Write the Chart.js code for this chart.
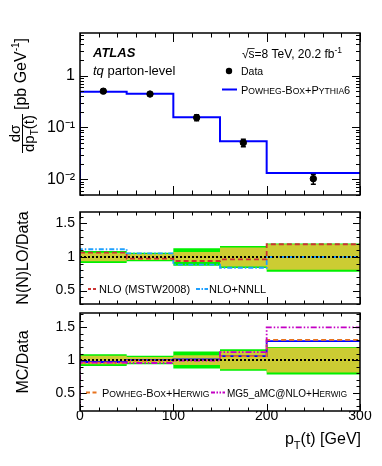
<!DOCTYPE html>
<html>
<head>
<meta charset="utf-8">
<script src="https://cdn.jsdelivr.net/npm/chart.js@4.4.1/dist/chart.umd.min.js"></script>
<style>
html, body { margin: 0; padding: 0; background: #fff; }
#wrap { position: relative; width: 382px; height: 466px; }
.pad { position: absolute; left: 0; width: 382px; }
</style>
</head>
<body>
<div id="wrap">
  <div class="pad" style="top:0;height:200px"><canvas id="topChart"></canvas></div>
  <div class="pad" style="top:200px;height:105px"><canvas id="midChart"></canvas></div>
  <div class="pad" style="top:305px;height:161px"><canvas id="botChart"></canvas></div>
</div>
<script>
// pT(t) bins [GeV]
const binEdges = [0, 50, 100, 150, 200, 300];
const binCentres = [25, 75, 125, 175, 250];

// unfolded data [pb/GeV]
const dataXsec = [0.50, 0.44, 0.155, 0.051, 0.0103];
// relative uncertainties: stat (inner band), total up / down (outer band)
const statUnc = [0.065, 0.045, 0.075, 0.14, 0.19];
const totUp = [0.09, 0.065, 0.13, 0.165, 0.20];
const totDown = [0.09, 0.065, 0.13, 0.165, 0.22];

// Powheg-Box+Pythia6 [pb/GeV]
const powPy6 = [0.487, 0.445, 0.158, 0.054, 0.0133];

// theory / data
const nloMstw = [1.065, 0.975, 0.94, 0.965, 1.19];
const nloNnll = [1.115, 1.055, 0.885, 0.84, 1.0];
// MC / data
const powPy6Ratio = [0.97, 1.0, 1.01, 1.06, 1.29];
const powHerwigRatio = [0.96, 0.99, 1.0, 1.06, 1.31];
const mg5HerwigRatio = [0.96, 0.955, 0.99, 1.12, 1.5];

// axes
const xTicks = [0, 100, 200, 300];
const yTopTicks = [0.01, 0.1, 1];
const yTopLabels = ['10⁻²', '10⁻¹', '1'];
const ratioTicks = [0.5, 1, 1.5];
const ratioLabels = ['0.5', '1', '1.5'];

const FONT = "'Liberation Sans', Arial, Helvetica, sans-serif";
const GREEN = 'rgb(0,240,0)';
const OLIVE = 'rgb(204,204,51)';

// histogram as step points (value holds until next edge)
function steps(vals, floor) {
  const pts = vals.map((v, i) => ({ x: binEdges[i], y: v }));
  pts.push({ x: binEdges[binEdges.length - 1], y: vals[vals.length - 1] });
  if (floor !== undefined) pts.unshift({ x: binEdges[0], y: floor });
  return pts;
}

function stepLine(data, color, width, dash, order) {
  return { data, borderColor: color, borderWidth: width, borderDash: dash || [],
           stepped: true, pointRadius: 0, fill: false, order };
}

function bandDatasets(first, up, down, color, order) {
  return [
    { data: steps(up), borderWidth: 0, borderColor: 'transparent', backgroundColor: color,
      stepped: true, pointRadius: 0, fill: first + 1, order },
    { data: steps(down), borderWidth: 0, borderColor: 'transparent',
      stepped: true, pointRadius: 0, fill: false, order }
  ];
}

// rich text: parts {t, size, font, dy, sc}
function drawParts(ctx, parts, x, y, align) {
  const runs = [];
  for (const p of parts) {
    const w = p.font || '';
    if (p.sc) {
      for (const ch of p.t) {
        const small = ch !== ch.toUpperCase();
        runs.push({ t: ch.toUpperCase(), font: (w + ' ' + (small ? p.size * 0.78 : p.size) + 'px ' + FONT).trim(), dy: p.dy || 0 });
      }
    } else {
      runs.push({ t: p.t, font: (w + ' ' + p.size + 'px ' + FONT).trim(), dy: p.dy || 0 });
    }
  }
  let total = 0;
  for (const r of runs) { ctx.font = r.font; r.w = ctx.measureText(r.t).width; total += r.w; }
  let cx = align === 'right' ? x - total : align === 'center' ? x - total / 2 : x;
  ctx.textAlign = 'left';
  ctx.textBaseline = 'alphabetic';
  for (const r of runs) { ctx.font = r.font; ctx.fillText(r.t, cx, y + r.dy); cx += r.w; }
  return total;
}

function sampleLine(ctx, x1, x2, y, color, width, dash) {
  ctx.save();
  ctx.strokeStyle = color; ctx.lineWidth = width; ctx.setLineDash(dash);
  ctx.beginPath(); ctx.moveTo(x1, y); ctx.lineTo(x2, y); ctx.stroke();
  ctx.restore();
}

// ATLAS style frame with inward ticks on all sides
const frame = {
  id: 'frame',
  afterDatasetsDraw(chart, args, o) {
    const { ctx, chartArea: a, scales: { x, y } } = chart;
    ctx.save();
    ctx.strokeStyle = '#000';
    ctx.lineWidth = 1;
    ctx.beginPath();
    for (let v = x.min; v <= x.max + 1e-6; v += o.xMinor) {
      const px = Math.round(x.getPixelForValue(v)) + 0.5;
      const len = Math.abs(v % o.xMajor) < 1e-6 ? o.xMajorLen : o.xMinorLen;
      ctx.moveTo(px, a.bottom); ctx.lineTo(px, a.bottom - len);
      ctx.moveTo(px, a.top); ctx.lineTo(px, a.top + len);
    }
    const yt = [];
    if (o.log) {
      for (let d = Math.floor(Math.log10(y.min)); d <= Math.ceil(Math.log10(y.max)); d++) {
        for (let k = 1; k <= 9; k++) {
          const v = k * Math.pow(10, d);
          if (v >= y.min && v <= y.max) yt.push([v, k === 1]);
        }
      }
    } else {
      const n0 = Math.ceil(y.min / o.yMinor - 1e-6), n1 = Math.floor(y.max / o.yMinor + 1e-6);
      for (let n = n0; n <= n1; n++) {
        const v = n * o.yMinor;
        yt.push([v, Math.abs(v / o.yMajor - Math.round(v / o.yMajor)) < 1e-6]);
      }
    }
    for (const [v, major] of yt) {
      const py = Math.round(y.getPixelForValue(v)) + 0.5;
      const len = major ? o.yMajorLen : o.yMinorLen;
      ctx.moveTo(a.left, py); ctx.lineTo(a.left + len, py);
      ctx.moveTo(a.right, py); ctx.lineTo(a.right - len, py);
    }
    ctx.stroke();
    ctx.lineWidth = 1.5;
    ctx.strokeRect(a.left, a.top, a.right - a.left, a.bottom - a.top);
    ctx.restore();
  }
};

const errBars = {
  id: 'errBars',
  afterDatasetsDraw(chart) {
    const { ctx, scales: { x, y } } = chart;
    ctx.save();
    ctx.strokeStyle = '#000';
    ctx.lineWidth = 1.5;
    ctx.beginPath();
    binCentres.forEach((c, i) => {
      const px = x.getPixelForValue(c);
      const hi = y.getPixelForValue(dataXsec[i] * (1 + totUp[i]));
      const lo = y.getPixelForValue(dataXsec[i] * (1 - totDown[i]));
      ctx.moveTo(px, hi); ctx.lineTo(px, lo);
      ctx.moveTo(px - 2.5, hi); ctx.lineTo(px + 2.5, hi);
      ctx.moveTo(px - 2.5, lo); ctx.lineTo(px + 2.5, lo);
    });
    ctx.stroke();
    ctx.restore();
  }
};

const topText = {
  id: 'topText',
  afterDraw(chart) {
    const ctx = chart.ctx;
    ctx.save();
    ctx.fillStyle = '#000';
    drawParts(ctx, [{ t: 'ATLAS', size: 13, font: 'italic bold' }], 93, 57);
    drawParts(ctx, [{ t: 'tq', size: 13, font: 'italic' }, { t: ' parton-level', size: 13 }], 93, 75);
    // sqrt(s) with overline
    ctx.font = '12px ' + FONT;
    const wr = ctx.measureText('√').width, ws = ctx.measureText('s').width;
    drawParts(ctx, [{ t: '√s=8 TeV, 20.2 fb', size: 12 }, { t: '-1', size: 8.5, dy: -5 }], 242, 58);
    ctx.strokeStyle = '#000'; ctx.lineWidth = 0.8;
    ctx.beginPath(); ctx.moveTo(242 + wr - 1, 48.5); ctx.lineTo(242 + wr + ws, 48.5); ctx.stroke();

    // legend
    ctx.beginPath(); ctx.arc(229, 71, 3.2, 0, Math.PI * 2); ctx.fill();
    drawParts(ctx, [{ t: 'Data', size: 10.5 }], 241, 75);
    sampleLine(ctx, 222, 237, 89.5, '#0000ff', 2, []);
    drawParts(ctx, [{ t: 'Powheg-Box+Pythia6', size: 11, sc: true }], 241, 94);

    // y title: dsigma / dpT(t) [pb GeV^-1]
    ctx.translate(22, 153);
    ctx.rotate(-Math.PI / 2);
    ctx.font = '15px ' + FONT;
    const wNum = ctx.measureText('dσ').width;
    const denParts = [{ t: 'dp', size: 15 }, { t: 'T', size: 10, dy: 4 }, { t: '(t)', size: 15 }];
    let wDen = 0;
    for (const p of denParts) { ctx.font = p.size + 'px ' + FONT; wDen += ctx.measureText(p.t).width; }
    const fw = Math.max(wNum, wDen) + 2;
    ctx.lineWidth = 1;
    ctx.beginPath(); ctx.moveTo(0, 0.5); ctx.lineTo(fw, 0.5); ctx.stroke();
    drawParts(ctx, [{ t: 'dσ', size: 15 }], fw / 2, -2.5, 'center');
    drawParts(ctx, denParts, fw / 2, 12, 'center');
    drawParts(ctx, [{ t: '[pb GeV', size: 16 }, { t: '-1', size: 10, dy: -7 }, { t: ']', size: 16 }], fw + 4, 3.5);
    ctx.restore();
  }
};

const midText = {
  id: 'midText',
  afterDraw(chart) {
    const ctx = chart.ctx;
    ctx.save();
    ctx.fillStyle = '#000';
    sampleLine(ctx, 88, 97, 89, '#cc3333', 1.8, [3, 2]);
    drawParts(ctx, [{ t: 'NLO (MSTW2008)', size: 11 }], 99, 93);
    sampleLine(ctx, 196, 208, 89, '#1fa0ff', 1.8, [4, 1.5, 1.5, 1.5]);
    drawParts(ctx, [{ t: 'NLO+NNLL', size: 11 }], 209, 93);
    ctx.restore();
  }
};

const botText = {
  id: 'botText',
  afterDraw(chart) {
    const ctx = chart.ctx;
    ctx.save();
    ctx.fillStyle = '#000';
    sampleLine(ctx, 86, 98, 87.5, '#e8731e', 1.8, [4, 2.5]);
    drawParts(ctx, [{ t: 'Powheg-Box+Herwig', size: 11, sc: true }], 102, 92);
    sampleLine(ctx, 211, 225, 87.5, '#c400c4', 1.8, [4, 1.5, 1.5, 1.5, 1.5, 1.5]);
    drawParts(ctx, [{ t: 'MG5_aMC@NLO+', size: 10 }, { t: 'Herwig', size: 10.5, sc: true }], 227, 92);
    // x title
    drawParts(ctx, [{ t: 'p', size: 16 }, { t: 'T', size: 11, dy: 5 }, { t: '(t) [GeV]', size: 16 }], 361, 139, 'right');
    ctx.restore();
  }
};

function makeOptions(cfg) {
  return {
    responsive: true,
    maintainAspectRatio: false,
    animation: false,
    layout: { padding: { top: cfg.padTop, bottom: cfg.padBottom, left: 0, right: 22 } },
    plugins: {
      legend: { display: false },
      tooltip: { enabled: false },
      frame: cfg.frame
    },
    scales: {
      x: {
        type: 'linear', min: 0, max: 300, display: cfg.showX,
        grid: { display: false, drawTicks: false }, border: { display: false },
        afterBuildTicks: s => { s.ticks = xTicks.map(v => ({ value: v })); },
        afterFit: s => {
          if (cfg.xHeight) s.height = cfg.xHeight;
          s.paddingLeft = 0; s.paddingRight = 0;
        },
        ticks: { font: { family: FONT, size: 14 }, color: '#000', padding: cfg.xPad || 0,
                 maxRotation: 0, autoSkip: false, callback: v => String(v) }
      },
      y: {
        type: cfg.yType, min: cfg.yMin, max: cfg.yMax,
        grid: { display: false, drawTicks: false }, border: { display: false },
        afterBuildTicks: s => { s.ticks = cfg.yTicks.map(v => ({ value: v })); },
        afterFit: s => { s.width = 80; s.paddingTop = 0; s.paddingBottom = 0; },
        ticks: { font: { family: FONT, size: cfg.yFont }, color: '#000', padding: 5, autoSkip: false,
                 callback: v => cfg.yLabels[cfg.yTicks.indexOf(v)] },
        title: cfg.yTitle ? { display: true, text: cfg.yTitle, color: '#000',
                 font: { family: FONT, size: 16 }, padding: { top: 14, bottom: 0 } } : { display: false }
      }
    }
  };
}

const Y_TOP_MIN = 0.005, Y_TOP_MAX = 6.6;
const Y_MID_MIN = 0.3, Y_MID_MAX = 1.67;
const Y_BOT_MIN = 0.22, Y_BOT_MAX = 1.72;

// top panel: differential cross-section
new Chart(document.getElementById('topChart').getContext('2d'), {
  type: 'line',
  data: {
    datasets: [
      { data: binCentres.map((c, i) => ({ x: c, y: dataXsec[i] })), showLine: false,
        pointRadius: 3.2, pointStyle: 'circle', backgroundColor: '#000', borderColor: '#000', order: 0 },
      stepLine(steps(powPy6, Y_TOP_MIN), '#0000ff', 2, [], 1)
    ]
  },
  options: makeOptions({
    padTop: 33, padBottom: 1, showX: false,
    yType: 'logarithmic', yMin: Y_TOP_MIN, yMax: Y_TOP_MAX,
    yTicks: yTopTicks, yLabels: yTopLabels, yFont: 16,
    frame: { xMinor: 20, xMajor: 100, xMajorLen: 9, xMinorLen: 4.5, log: true, yMajorLen: 8, yMinorLen: 4 }
  }),
  plugins: [frame, errBars, topText]
});

// middle panel: (N)NLO / data
const unity = [{ x: 0, y: 1 }, { x: 300, y: 1 }];
new Chart(document.getElementById('midChart').getContext('2d'), {
  type: 'line',
  data: {
    datasets: [
      stepLine(unity, '#000', 2, [2, 2], 0),
      stepLine(steps(nloMstw), '#cc3333', 1.8, [5, 3], 1),
      stepLine(steps(nloNnll, Y_MID_MIN), '#1fa0ff', 1.8, [5, 2, 1.5, 2], 2),
      ...bandDatasets(3, statUnc.map(u => 1 + u), statUnc.map(u => 1 - u), OLIVE, 3),
      ...bandDatasets(5, totUp.map(u => 1 + u), totDown.map(u => 1 - u), GREEN, 4)
    ]
  },
  options: makeOptions({
    padTop: 12, padBottom: 1, showX: false,
    yType: 'linear', yMin: Y_MID_MIN, yMax: Y_MID_MAX,
    yTicks: ratioTicks, yLabels: ratioLabels, yFont: 14, yTitle: 'N(N)LO/Data',
    frame: { xMinor: 20, xMajor: 100, xMajorLen: 7, xMinorLen: 3.5, log: false,
             yMinor: 0.1, yMajor: 0.5, yMajorLen: 7, yMinorLen: 3.5 }
  }),
  plugins: [frame, midText]
});

// bottom panel: MC / data
new Chart(document.getElementById('botChart').getContext('2d'), {
  type: 'line',
  data: {
    datasets: [
      stepLine(unity, '#000', 2, [2, 2], 0),
      stepLine(steps(mg5HerwigRatio, Y_BOT_MIN), '#c400c4', 1.8, [6, 2, 1.5, 2, 1.5, 2], 1),
      stepLine(steps(powHerwigRatio), '#e8731e', 1.8, [5, 3], 2),
      stepLine(steps(powPy6Ratio), '#0000ff', 1.8, [], 3),
      ...bandDatasets(4, statUnc.map(u => 1 + u), statUnc.map(u => 1 - u), OLIVE, 4),
      ...bandDatasets(6, totUp.map(u => 1 + u), totDown.map(u => 1 - u), GREEN, 5)
    ]
  },
  options: makeOptions({
    padTop: 8, padBottom: 0, showX: true, xHeight: 55, xPad: -3,
    yType: 'linear', yMin: Y_BOT_MIN, yMax: Y_BOT_MAX,
    yTicks: ratioTicks, yLabels: ratioLabels, yFont: 14, yTitle: 'MC/Data',
    frame: { xMinor: 20, xMajor: 100, xMajorLen: 7, xMinorLen: 3.5, log: false,
             yMinor: 0.1, yMajor: 0.5, yMajorLen: 7, yMinorLen: 3.5 }
  }),
  plugins: [frame, botText]
});
</script>
</body>
</html>
